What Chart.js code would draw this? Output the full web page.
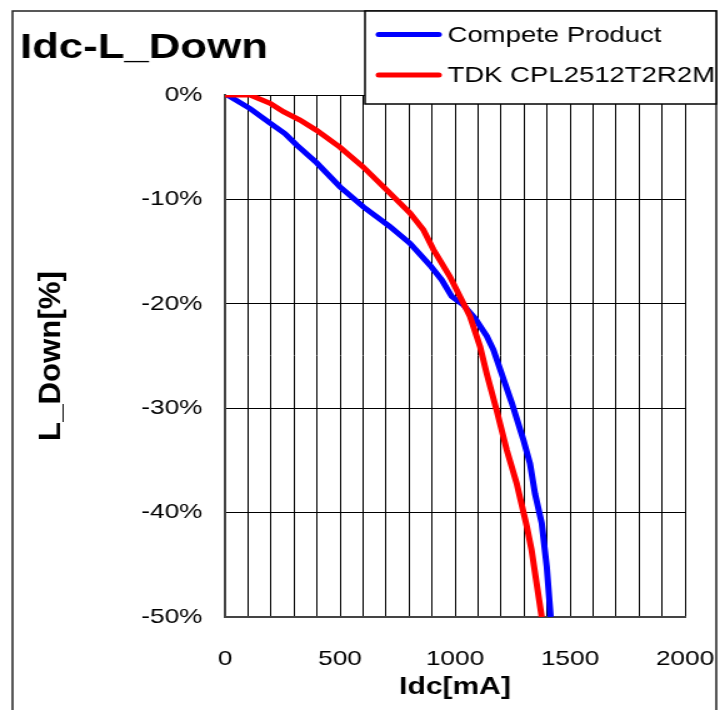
<!DOCTYPE html>
<html>
<head>
<meta charset="utf-8">
<script src="https://cdn.jsdelivr.net/npm/chart.js@4"></script>
<style>
  html, body { margin: 0; padding: 0; background: #fff; overflow: hidden; }
  /* the reference is stretched sideways, so draw narrow and widen it */
  #wrap { position: absolute; left: 0; top: 0; width: 580px; height: 710px;
          transform: scaleX(1.25); transform-origin: 0 0; }
</style>
</head>
<body>
<div id="wrap"><canvas id="myChart"></canvas></div>
<script>
// values
const competeIdc = [10, 109, 196, 261, 312, 399, 500, 601, 717, 804, 891, 942, 986, 1036, 1087, 1138, 1167, 1217, 1247, 1297, 1326, 1348, 1377, 1399, 1416];
const competeL = [0, -1.3, -2.7, -3.7, -4.8, -6.5, -8.8, -10.7, -12.6, -14.2, -16.3, -17.7, -19.3, -20.1, -21.4, -23.1, -24.4, -27.6, -29.5, -33.0, -35.3, -38.2, -41.0, -45.2, -50.0];

const tdkIdc = [0, 109, 196, 254, 326, 399, 500, 601, 703, 804, 862, 906, 978, 1065, 1109, 1138, 1181, 1225, 1268, 1312, 1333, 1355, 1377];
const tdkL = [0, 0, -0.8, -1.6, -2.4, -3.4, -5.0, -6.9, -9.1, -11.3, -12.9, -14.8, -17.4, -21.2, -24.1, -26.7, -30.2, -34.0, -37.2, -41.3, -43.6, -46.8, -50.0];

const seriesNames = ["Compete Product", "TDK CPL2512T2R2M"];
const chartTitle = "Idc-L_Down";
const xTitle = "Idc[mA]";
const yTitle = "L_Down[%]";

const toPoints = (xs, ys) => xs.map((x, i) => ({ x: x, y: ys[i] }));

Chart.defaults.font.family = "'Liberation Sans', Arial, sans-serif";
Chart.defaults.color = "#000";

// title, y title, outer frame and legend box
const decorations = {
  id: "decorations",
  afterDraw(chart) {
    const ctx = chart.ctx;
    const area = chart.chartArea;
    ctx.save();
    // outer frame
    ctx.strokeStyle = "#222";
    ctx.lineWidth = 1.5;
    ctx.beginPath();
    ctx.moveTo(10, 712);
    ctx.lineTo(10, 11);
    ctx.lineTo(573, 11);
    ctx.lineTo(573, 712);
    ctx.stroke();

    // title
    ctx.fillStyle = "#000";
    ctx.font = "bold 35px 'Liberation Sans', Arial, sans-serif";
    ctx.textBaseline = "alphabetic";
    ctx.textAlign = "left";
    ctx.fillText(chartTitle, 16, 58);

    // y axis title (rotated, a bit longer than the font gives)
    ctx.save();
    ctx.translate(41, (area.top + area.bottom) / 2);
    ctx.rotate(-Math.PI / 2);
    ctx.scale(1.3, 1);
    ctx.font = "bold 24px 'Liberation Sans', Arial, sans-serif";
    ctx.textAlign = "center";
    ctx.textBaseline = "middle";
    ctx.fillText(yTitle, 0, 0);
    ctx.restore();

    // legend
    ctx.fillStyle = "#fff";
    ctx.fillRect(292, 11, 281, 93);
    ctx.strokeStyle = "#000";
    ctx.lineWidth = 1.5;
    ctx.strokeRect(292, 11, 281, 93);
    const rows = [34.5, 75];
    chart.data.datasets.forEach((ds, i) => {
      ctx.strokeStyle = ds.borderColor;
      ctx.lineWidth = 5;
      ctx.lineCap = "round";
      ctx.beginPath();
      ctx.moveTo(303, rows[i]);
      ctx.lineTo(351, rows[i]);
      ctx.stroke();
      ctx.fillStyle = "#000";
      ctx.font = "22px 'Liberation Sans', Arial, sans-serif";
      ctx.textAlign = "left";
      ctx.textBaseline = "middle";
      ctx.fillText(ds.label, 358, rows[i] + 1);
    });
    ctx.restore();
  },
};

const ctx = document.getElementById("myChart").getContext("2d");
const myChart = new Chart(ctx, {
  type: "line",
  data: {
    datasets: [
      {
        label: seriesNames[0],
        data: toPoints(competeIdc, competeL),
        borderColor: "#0000ff",
        borderWidth: 5,
        pointRadius: 0,
        fill: false,
        tension: 0,
        order: 1,
      },
      {
        label: seriesNames[1],
        data: toPoints(tdkIdc, tdkL),
        borderColor: "#ff0000",
        borderWidth: 5,
        pointRadius: 0,
        fill: false,
        tension: 0,
        order: 0,
      },
    ],
  },
  options: {
    responsive: true,
    maintainAspectRatio: false,
    animation: false,
    devicePixelRatio: 1,
    layout: { padding: { left: 0, top: 95, right: 32, bottom: 0 } },
    plugins: {
      legend: { display: false },
      tooltip: { enabled: false },
    },
    scales: {
      x: {
        type: "linear",
        min: 0,
        max: 2000,
        afterFit: (scale) => { scale.height = 93; },
        ticks: {
          stepSize: 100,
          autoSkip: false,
          maxRotation: 0,
          padding: 0,
          font: { size: 21 },
          callback: (v) => (v % 500 === 0 ? String(v) : ""),
        },
        grid: { color: "#000", lineWidth: 1, drawTicks: true, tickLength: 30, tickColor: "rgba(0,0,0,0)" },
        border: { color: "#444", width: 2 },
        title: {
          display: true,
          text: xTitle,
          font: { size: 24, weight: "bold" },
          padding: { top: 0, bottom: 8 },
        },
      },
      y: {
        min: -50,
        max: 0,
        afterFit: (scale) => { scale.width = 180; },
        ticks: {
          stepSize: 10,
          padding: 18,
          font: { size: 21 },
          callback: (v) => v + "%",
        },
        grid: { color: "#000", lineWidth: 1, drawTicks: false },
        border: { color: "#444", width: 2 },
        title: { display: false },
      },
    },
  },
  plugins: [decorations],
});
</script>
</body>
</html>
